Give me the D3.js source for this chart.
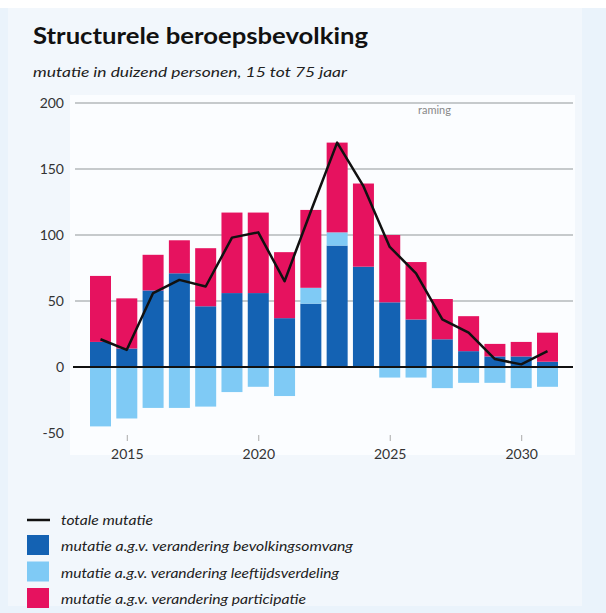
<!DOCTYPE html>
<html><head><meta charset="utf-8">
<script src="https://cdn.jsdelivr.net/npm/d3@7"></script>
<style>
html,body{margin:0;padding:0;background:#ffffff;}
svg{display:block;}
</style></head>
<body>
<svg id="chart" width="606" height="613"></svg>
<script>
const years = [2014,2015,2016,2017,2018,2019,2020,2021,2022,2023,2024,2025,2026,2027,2028,2029,2030,2031];
const bevolkingsomvang = [19,14,58,71,46,56,56,37,48,92,76,49,36,21,12,8,8,4];
const leeftijdsverdeling = [-45,-39,-31,-31,-30,-19,-15,-22,12,10,0,-8,-8,-16,-12,-12,-16,-15];
const participatie = [50,38,27,25,44,61,61,50,59,68,63,51,43.5,30.5,26.5,9.5,11,22];
const totaleMutatie = [21,13,56,66,61,98,102,65,118,170,137,91,71,36,26,6,2,12];
const yTicks = [-50,0,50,100,150,200];
const xTicks = [2015,2020,2025,2030];
const seriesNames = ["mutatie a.g.v. verandering bevolkingsomvang","mutatie a.g.v. verandering leeftijdsverdeling","mutatie a.g.v. verandering participatie"];
const lineName = "totale mutatie";

const colors = {bev:"#1462b3", leef:"#7fcaf5", part:"#e6125f"};
const svg = d3.select("#chart");
const font = "Lato, 'Open Sans', sans-serif";

// background frame
svg.append("rect").attr("x",0).attr("y",0).attr("width",606).attr("height",613).attr("fill","#eaf3fb");
svg.append("rect").attr("x",0).attr("y",0).attr("width",606).attr("height",8).attr("fill","#ffffff");
svg.append("rect").attr("x",8).attr("y",8).attr("width",574).attr("height",598).attr("fill","#f2f7fc");
svg.append("rect").attr("x",70).attr("y",95).attr("width",505).attr("height",360).attr("fill","#fbfdff");

svg.append("text").attr("x",33).attr("y",44).attr("font-family",font).attr("font-weight","bold")
  .attr("font-size",22).attr("fill","#111").attr("textLength",335).attr("lengthAdjust","spacingAndGlyphs")
  .text("Structurele beroepsbevolking");
svg.append("text").attr("x",33).attr("y",77).attr("font-family",font).attr("font-style","italic")
  .attr("font-size",14).attr("fill","#222").attr("textLength",314).attr("lengthAdjust","spacingAndGlyphs")
  .text("mutatie in duizend personen, 15 tot 75 jaar");

const x = d3.scaleLinear().domain([2014,2031]).range([100.5,547.5]);
const y = d3.scaleLinear().domain([-50,200]).range([433,103]);
const bw = 21;

// gridlines
svg.append("g").selectAll("line").data(yTicks.filter(t=>t>0)).join("line")
  .attr("x1",75).attr("x2",573).attr("y1",d=>y(d)).attr("y2",d=>y(d))
  .attr("stroke","#b5b8bb").attr("stroke-width",1.5);

// y labels
const yAxis = d3.axisLeft(y).tickValues(yTicks).tickSize(0).tickPadding(0).tickFormat(d=>String(d));
const ga = svg.append("g").attr("transform","translate(64,0)").call(yAxis);
ga.select(".domain").remove();
ga.selectAll("text").attr("font-family",font).attr("font-size",14).attr("fill","#333");

svg.append("text").attr("x",418).attr("y",114).attr("font-family",font).attr("font-size",11)
  .attr("fill","#888").text("raming");

// bars
const data = years.map((yr,i)=>({yr, bev:bevolkingsomvang[i], leef:leeftijdsverdeling[i], part:participatie[i]}));
const segs = [];
data.forEach(d=>{
  segs.push({yr:d.yr, y0:0, y1:d.bev, c:colors.bev});
  let top = d.bev;
  if (d.leef >= 0) { segs.push({yr:d.yr, y0:top, y1:top+d.leef, c:colors.leef}); top += d.leef; }
  else segs.push({yr:d.yr, y0:d.leef, y1:0, c:colors.leef});
  segs.push({yr:d.yr, y0:top, y1:top+d.part, c:colors.part});
});
svg.append("g").selectAll("rect").data(segs).join("rect")
  .attr("x",d=>x(d.yr)-bw/2).attr("width",bw)
  .attr("y",d=>y(Math.max(d.y0,d.y1))).attr("height",d=>Math.abs(y(d.y0)-y(d.y1)))
  .attr("fill",d=>d.c);

// zero line
svg.append("line").attr("x1",73).attr("x2",573).attr("y1",y(0)).attr("y2",y(0))
  .attr("stroke","#111").attr("stroke-width",2);

// x axis
const xAxis = d3.axisBottom(x).tickValues(xTicks).tickFormat(d3.format("d")).tickSize(6).tickPadding(8);
const gx = svg.append("g").attr("transform","translate(0,435)").call(xAxis);
gx.select(".domain").remove();
gx.selectAll("line").attr("stroke","#aaa");
gx.selectAll("text").attr("font-family",font).attr("font-size",14).attr("fill","#333");

// line
svg.append("path").datum(years.map((yr,i)=>[yr,totaleMutatie[i]]))
  .attr("fill","none").attr("stroke","#111").attr("stroke-width",2.5).attr("stroke-linejoin","round")
  .attr("d",d3.line().x(d=>x(d[0])).y(d=>y(d[1])));

// legend
const lg = svg.append("g");
const lw = [92, 292, 278, 245];
lg.append("line").attr("x1",27).attr("x2",50).attr("y1",520).attr("y2",520).attr("stroke","#111").attr("stroke-width",2.5);
lg.append("text").attr("x",61).attr("y",525).attr("font-family",font).attr("font-style","italic").attr("font-size",14)
  .attr("fill","#222").attr("textLength",lw[0]).attr("lengthAdjust","spacingAndGlyphs").text(lineName);
const lc = [colors.bev, colors.leef, colors.part];
seriesNames.forEach((n,i)=>{
  lg.append("rect").attr("x",27).attr("y",535+i*26.5).attr("width",22).attr("height",20).attr("fill",lc[i]);
  lg.append("text").attr("x",61).attr("y",551+i*26.5).attr("font-family",font).attr("font-style","italic").attr("font-size",14)
    .attr("fill","#222").attr("textLength",lw[i+1]).attr("lengthAdjust","spacingAndGlyphs").text(n);
});
</script>
</body></html>
